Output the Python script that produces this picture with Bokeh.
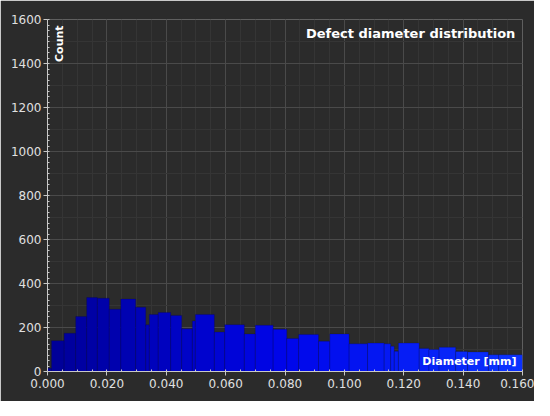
import numpy as np
from bokeh.plotting import figure
from bokeh.models import Range1d, Label, NumeralTickFormatter, FixedTicker, ColumnDataSource
from bokeh.embed import file_html
from bokeh.resources import INLINE

# ---- data ----
bin_left = [0.0000, 0.00135, 0.0056, 0.0095, 0.0132, 0.0168, 0.0208, 0.0247, 0.0297, 0.0331,
            0.0343, 0.0373, 0.0415, 0.0452, 0.0488, 0.0498, 0.0562, 0.0597, 0.0663, 0.0700,
            0.0760, 0.0806, 0.0846, 0.0913, 0.0951, 0.1016, 0.1078, 0.1134, 0.1156, 0.1168,
            0.1182, 0.1252, 0.1285, 0.1319, 0.1375, 0.1415, 0.1485, 0.1520]
bin_right = bin_left[1:] + [0.1600]
counts = [15, 140, 174, 250, 336, 333, 283, 329, 292, 212,
          259, 268, 255, 194, 230, 259, 179, 213, 171, 210,
          192, 150, 168, 138, 171, 126, 129, 126, 115, 92,
          129, 105, 100, 110, 91, 89, 76, 76]

x_ticks = [0.000, 0.020, 0.040, 0.060, 0.080, 0.100, 0.120, 0.140, 0.160]
y_ticks = [0, 200, 400, 600, 800, 1000, 1200, 1400, 1600]
title_text = "Defect diameter distribution"
x_label = "Diameter [mm]"
y_label = "Count"

# ---- colour gradient along x (style) ----
stops_v = [0.0, 0.08, 0.16]
stops_c = [(0, 0, 150), (0, 6, 235), (12, 52, 255)]
def grad(v):
    r = np.interp(v, stops_v, [c[0] for c in stops_c])
    g = np.interp(v, stops_v, [c[1] for c in stops_c])
    b = np.interp(v, stops_v, [c[2] for c in stops_c])
    return "#%02x%02x%02x" % (int(r), int(g), int(b))

centers = [(a + b) / 2 for a, b in zip(bin_left, bin_right)]
colors = [grad(c) for c in centers]

src = ColumnDataSource(dict(left=bin_left, right=bin_right, top=counts,
                            bottom=[0] * len(counts), color=colors))

BG = "#2b2b2b"
FONT = "DejaVu Sans"

p = figure(width=534, height=401,
           x_range=Range1d(0, 0.16), y_range=Range1d(0, 1600),
           output_backend="svg", toolbar_location=None,
           min_border_left=47, min_border_right=12,
           min_border_top=19, min_border_bottom=30)

p.background_fill_color = BG
p.border_fill_color = BG
p.outline_line_color = None

p.quad(left="left", right="right", top="top", bottom="bottom", source=src,
       fill_color="color", line_color="#000040", line_alpha=0.22, line_width=1)

# grids
p.xgrid.ticker = FixedTicker(ticks=x_ticks, minor_ticks=[i * 0.005 for i in range(33)])
p.ygrid.ticker = FixedTicker(ticks=y_ticks, minor_ticks=[i * 100 for i in range(17)])
for g in (p.xgrid, p.ygrid):
    g.grid_line_color = "#4a4a4a"
    g.grid_line_width = 1
    g.minor_grid_line_color = "#353535"
    g.minor_grid_line_width = 1

# axes
p.xaxis.ticker = FixedTicker(ticks=x_ticks,
                             minor_ticks=[i * 0.005 for i in range(33)])
p.yaxis.ticker = FixedTicker(ticks=y_ticks,
                             minor_ticks=[i * 25 for i in range(65)])
p.xaxis.formatter = NumeralTickFormatter(format="0.000")

for ax in (p.xaxis[0], p.yaxis[0]):
    ax.axis_line_color = "#c8c8c8"
    ax.major_tick_line_color = "#c8c8c8"
    ax.minor_tick_line_color = "#c8c8c8"
    ax.major_tick_out = 4
    ax.major_tick_in = 0
    ax.minor_tick_in = 2
    ax.minor_tick_out = 0
    ax.major_label_text_color = "#e0e0e0"
    ax.major_label_text_font = FONT
    ax.major_label_text_font_size = "12px"

p.yaxis.major_label_standoff = 2
p.xaxis.major_label_standoff = 3

# in-plot texts
p.add_layout(Label(x=0.1576, y=1536, text=title_text, text_font=FONT,
                   text_font_style="bold", text_font_size="13px",
                   text_color="white", text_align="right", text_baseline="middle"))
p.add_layout(Label(x=0.1580, y=45, text=x_label, text_font=FONT,
                   text_font_style="bold", text_font_size="11px",
                   text_color="white", text_align="right", text_baseline="middle"))
p.add_layout(Label(x=0.0017, y=1573, text=y_label, text_font=FONT,
                   text_font_style="bold", text_font_size="11px",
                   text_color="white", text_align="right", text_baseline="top",
                   angle=np.pi / 2))

open("out.html", "w").write(file_html(p, INLINE))
